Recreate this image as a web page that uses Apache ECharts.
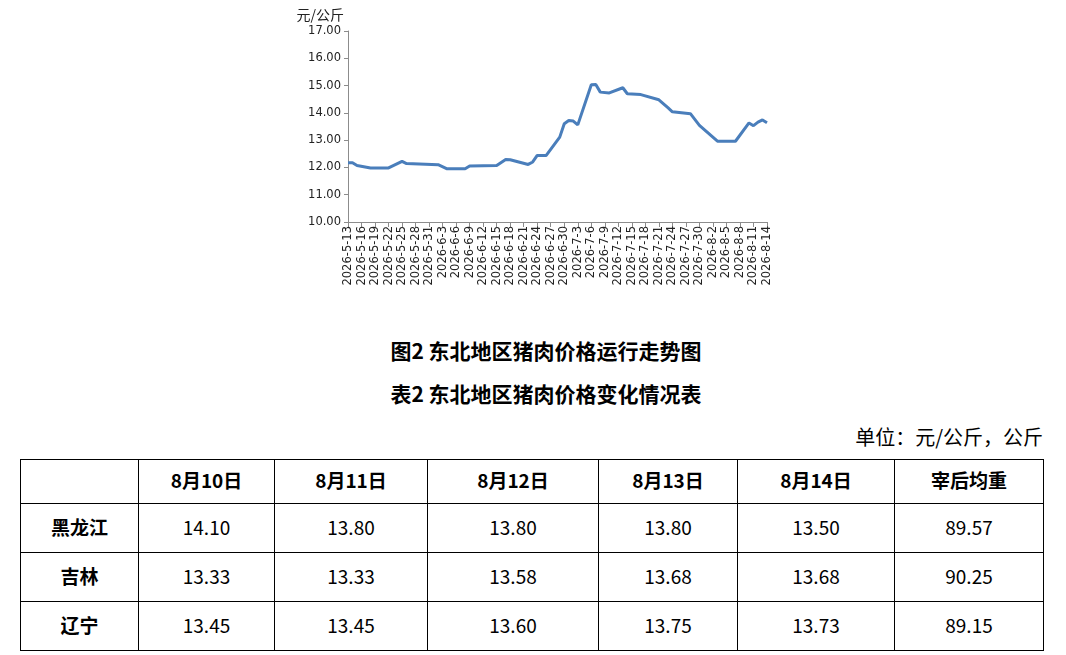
<!DOCTYPE html>
<html>
<head>
<meta charset="utf-8">
<script src="https://cdn.jsdelivr.net/npm/echarts@6/dist/echarts.min.js"></script>
<style>
  html, body { margin: 0; padding: 0; background: #fff; }
  #page { position: relative; width: 1066px; height: 655px; overflow: hidden;
          font-family: "Noto Sans CJK SC", "Noto Sans", sans-serif; color: #000; }
  #chart { position: absolute; left: 0; top: 0; width: 1066px; height: 300px; }
  .cap { position: absolute; left: 0; width: 1092px; text-align: center; font-weight: bold;
         font-size: 21px; line-height: 24px; }
  #unit { position: absolute; right: 23px; top: 424px; font-size: 20px; line-height: 26px; }
  #tbl { position: absolute; left: 20px; top: 459px; border-collapse: collapse; table-layout: fixed; }
  #tbl td { border: 1.5px solid #000; text-align: center; font-size: 19px; padding: 0 0 4px 0; }
  #tbl tr:first-child td, #tbl td:first-child { font-weight: bold; }
</style>
</head>
<body>
<div id="page">
  <div id="chart"></div>
  <div class="cap" style="top:338px">图2 东北地区猪肉价格运行走势图</div>
  <div class="cap" style="top:381px">表2 东北地区猪肉价格变化情况表</div>
  <div id="unit">单位：元/公斤，公斤</div>
  <table id="tbl"></table>
</div>
<script>
// 日期轴：2026-5-13 起，逐日
const startDay = '2026-5-13'
const dayCount = 94

// 价格拐点（元/公斤）
const pointDates = ['2026-5-13','2026-5-14','2026-5-15','2026-5-18','2026-5-22','2026-5-25','2026-5-26',
  '2026-6-2','2026-6-4','2026-6-8','2026-6-9','2026-6-15','2026-6-17','2026-6-18','2026-6-22','2026-6-23',
  '2026-6-24','2026-6-26','2026-6-29','2026-6-30','2026-7-1','2026-7-2','2026-7-3','2026-7-6','2026-7-7',
  '2026-7-8','2026-7-10','2026-7-13','2026-7-14','2026-7-17','2026-7-21','2026-7-23','2026-7-24',
  '2026-7-28','2026-7-30','2026-8-3','2026-8-7','2026-8-10','2026-8-11','2026-8-12','2026-8-13','2026-8-14']
const pointValues = [12.17,12.17,12.07,11.98,11.98,12.22,12.14,
  12.10,11.95,11.95,12.05,12.07,12.29,12.28,12.11,12.20,
  12.44,12.44,13.11,13.60,13.72,13.70,13.56,15.03,15.04,
  14.76,14.73,14.92,14.70,14.67,14.48,14.19,14.04,
  13.97,13.54,12.96,12.96,13.63,13.53,13.66,13.74,13.64]

// 表格
const tableHead = ['', '8月10日', '8月11日', '8月12日', '8月13日', '8月14日', '宰后均重']
const provinces = ['黑龙江', '吉林', '辽宁']
const hljValues = ['14.10', '13.80', '13.80', '13.80', '13.50', '89.57']
const jlValues = ['13.33', '13.33', '13.58', '13.68', '13.68', '90.25']
const lnValues = ['13.45', '13.45', '13.60', '13.75', '13.73', '89.15']

const colWidths = [118, 136, 153, 171, 139, 157, 149]
const rowHeights = [44, 49, 49, 49]

var categories = []
var d0 = new Date(2026, 4, 13)
for (var i = 0; i < dayCount; i++) {
  var d = new Date(d0.getFullYear(), d0.getMonth(), d0.getDate() + i)
  categories.push(d.getFullYear() + '-' + (d.getMonth() + 1) + '-' + d.getDate())
}
var lineData = categories.map(function (c) {
  var k = pointDates.indexOf(c)
  return k < 0 ? null : pointValues[k]
})

var chart = echarts.init(document.getElementById('chart'))
var axisGray = '#8c8c8c'
chart.setOption({
  animation: false,
  grid: { left: 348, top: 31, width: 419, height: 191 },
  xAxis: {
    type: 'category',
    data: categories,
    boundaryGap: false,
    axisLine: { lineStyle: { color: axisGray, width: 1 } },
    axisTick: { interval: 2, length: 5, lineStyle: { color: axisGray } },
    axisLabel: { interval: 2, rotate: 90, margin: 4, color: '#222',
                 fontFamily: 'DejaVu Sans', fontSize: 11.5 }
  },
  yAxis: {
    type: 'value',
    min: 10, max: 17, interval: 1,
    name: '元/公斤',
    nameGap: 9,
    nameTextStyle: { color: '#222', fontSize: 14, fontFamily: 'Noto Sans CJK SC',
                     align: 'right', padding: [0, 4, 0, 0] },
    axisLine: { show: true, lineStyle: { color: axisGray, width: 1 } },
    axisTick: { show: true, length: 4, lineStyle: { color: axisGray } },
    splitLine: { show: false },
    axisLabel: { color: '#222', fontFamily: 'DejaVu Sans', fontSize: 11.5, margin: 7,
                 formatter: function (v) { return v.toFixed(2) } }
  },
  series: [{
    type: 'line',
    data: lineData,
    connectNulls: true,
    showSymbol: false,
    lineStyle: { color: '#4a7ebb', width: 3 },
    itemStyle: { color: '#4a7ebb' }
  }]
})

// 表格
var rows = [tableHead,
  [provinces[0]].concat(hljValues),
  [provinces[1]].concat(jlValues),
  [provinces[2]].concat(lnValues)]
var tbl = document.getElementById('tbl')
var html = '<colgroup>' + colWidths.map(function (w) { return '<col style="width:' + w + 'px">' }).join('') + '</colgroup>'
rows.forEach(function (r, ri) {
  html += '<tr style="height:' + rowHeights[ri] + 'px">' + r.map(function (c) { return '<td>' + c + '</td>' }).join('') + '</tr>'
})
tbl.innerHTML = html
</script>
</body>
</html>
